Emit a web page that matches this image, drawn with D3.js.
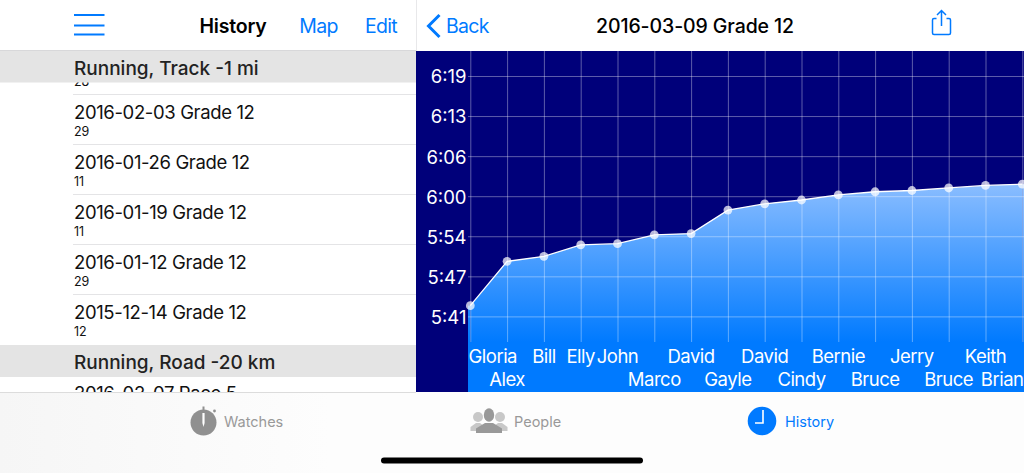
<!DOCTYPE html>
<html>
<head>
<meta charset="utf-8">
<script src="https://cdn.jsdelivr.net/npm/d3@7"></script>
<style>
html,body{margin:0;padding:0;background:#fff;overflow:hidden}
svg{display:block}
text{font-family:Inter,"Noto Sans",sans-serif}
</style>
</head>
<body>
<svg id="c" width="1024" height="473"></svg>
<script>
const runners = ["Gloria","Alex","Bill","Elly","John","Marco","David","Gayle","David","Cindy","Bernie","Bruce","Jerry","Bruce","Keith","Brian"];
const labelRows = [0,1,0,0,0,1,0,1,0,1,0,1,0,1,0,1];
const seconds = [342.7,349.7,350.5,352.3,352.5,353.9,354.1,357.8,358.8,359.4,360.2,360.7,360.9,361.3,361.7,361.9];
const yTicks = [341,347.33,353.67,360,366.33,372.67,379];
const yTickLabels = ["5:41","5:47","5:54","6:00","6:06","6:13","6:19"];
const chartTitle = "2016-03-09 Grade 12";
const listRows = [["2016-02-03 Grade 12","29"],["2016-01-26 Grade 12","11"],["2016-01-19 Grade 12","11"],["2016-01-12 Grade 12","29"],["2015-12-14 Grade 12","12"]];
const sectionTitles = ["Running, Track -1 mi","Running, Road -20 km"];
const tabs = ["Watches","People","History"];

const blue = "#007aff", navy = "#00007a";
const svg = d3.select("#c");
const defs = svg.append("defs");
const grad = defs.append("linearGradient").attr("id","g").attr("gradientUnits","userSpaceOnUse")
  .attr("x1",0).attr("x2",0).attr("y1",184).attr("y2",342);
grad.append("stop").attr("offset",0).attr("stop-color","#8abdff");
grad.append("stop").attr("offset",1).attr("stop-color",blue);
const tabGrad = defs.append("linearGradient").attr("id","tabFade").attr("x1",0).attr("x2",1).attr("y1",0).attr("y2",0);
tabGrad.append("stop").attr("offset",0).attr("stop-color","#f6f6f6");
tabGrad.append("stop").attr("offset",1).attr("stop-color","#fdfdfd");
defs.append("clipPath").attr("id","listClip").append("rect").attr("x",0).attr("y",51).attr("width",416).attr("height",341);
defs.append("clipPath").attr("id","chartClip").append("rect").attr("x",416).attr("y",51).attr("width",608).attr("height",341);
const blur = defs.append("filter").attr("id","soft").attr("x","-10%").attr("y","-10%").attr("width","120%").attr("height","120%");
blur.append("feGaussianBlur").attr("stdDeviation",0.6);

/* ---------- chart ---------- */
const x = d3.scalePoint().domain(d3.range(runners.length)).range([470.3,1022.3]);
const y = d3.scaleLinear().domain([341,379]).range([316.4,76]);
const bottom = 342;

const chart = svg.append("g").attr("clip-path","url(#chartClip)");
chart.append("rect").attr("x",416).attr("y",51).attr("width",608).attr("height",341).attr("fill",navy);

const area = d3.area().x((d,i)=>x(i)).y0(bottom).y1(d=>y(d));
chart.append("path").datum(seconds).attr("d",area).attr("fill","url(#g)");
chart.append("rect").attr("x",468).attr("y",bottom).attr("width",556).attr("height",50).attr("fill",blue);
chart.append("rect").attr("x",468).attr("y",y(seconds[0])).attr("width",2.3).attr("height",bottom-y(seconds[0])).attr("fill","url(#g)");
chart.append("rect").attr("x",1022.3).attr("y",y(seconds[15])).attr("width",1.7).attr("height",bottom-y(seconds[15])).attr("fill","url(#g)");

chart.append("g").attr("transform","translate(468,0)")
  .call(d3.axisLeft(y).tickValues(yTicks).tickSize(-556).tickFormat(""))
  .call(g=>g.select(".domain").remove())
  .selectAll("line").attr("stroke","#fff").attr("stroke-opacity",.36).attr("stroke-width",1);

chart.append("g").attr("transform",`translate(0,${bottom})`)
  .call(d3.axisBottom(x).tickSize(-291).tickFormat(""))
  .call(g=>g.select(".domain").remove())
  .selectAll("line").attr("stroke","#fff").attr("stroke-opacity",.36).attr("stroke-width",1);

chart.append("g").attr("transform","translate(466.5,0)")
  .call(d3.axisLeft(y).tickValues(yTicks).tickSize(0).tickPadding(0).tickFormat((d,i)=>yTickLabels[i]))
  .call(g=>g.select(".domain").remove())
  .selectAll("text").attr("fill","#fff").attr("dy",".37em").style("font-size","18.5px").style("font-family","Inter,sans-serif");

chart.append("path").datum(seconds).attr("d",d3.line().x((d,i)=>x(i)).y(d=>y(d)))
  .attr("fill","none").attr("stroke","#fff").attr("stroke-width",1.3);
chart.selectAll("circle.pt").data(seconds).join("circle").attr("class","pt")
  .attr("cx",(d,i)=>x(i)).attr("cy",d=>y(d)).attr("r",4.4).attr("fill","#fff").attr("fill-opacity",.72);

const names = chart.selectAll("text.name").data(runners).join("text").attr("class","name")
  .attr("x",(d,i)=>x(i)).attr("y",(d,i)=>labelRows[i]?385.5:362.5)
  .attr("text-anchor","middle").attr("fill","#fff").style("font-size","18.5px").style("letter-spacing","-0.5px")
  .text(d=>d);
// labels that would leave the plot band are pushed back inside it
names.each(function(){
  const b = this.getBBox(), el = d3.select(this);
  if (b.x < 468.5) el.attr("x", +el.attr("x") + 468.5 - b.x);
  if (b.x + b.width > 1023.5) el.attr("x", +el.attr("x") + 1023.5 - b.x - b.width);
});

/* ---------- list ---------- */
const list = svg.append("g").attr("clip-path","url(#listClip)");
list.append("rect").attr("x",0).attr("y",51).attr("width",416).attr("height",341).attr("fill","#fff");
list.append("text").attr("x",74).attr("y",85.5).attr("fill","#111").style("font-size","12.5px").text("28");
const rowY = d3.scaleLinear().domain([0,4]).range([94.5,294.5]);
const rows = list.selectAll("g.row").data(listRows).join("g").attr("class","row").attr("transform",(d,i)=>`translate(0,${rowY(i)})`);
rows.append("line").attr("x1",73).attr("x2",416).attr("y1",0).attr("y2",0).attr("stroke","#e4e4e6");
rows.append("text").attr("x",74).attr("y",24.3).attr("fill","#111").style("font-size","18.5px").style("letter-spacing","-0.37px").text(d=>d[0]);
rows.append("text").attr("x",74).attr("y",41).attr("fill","#111").style("font-size","12.5px").text(d=>d[1]);
list.append("text").attr("x",74).attr("y",400).attr("fill","#111").style("font-size","18.5px").style("letter-spacing","-0.37px").text("2016-02-07 Pace 5");
[[51,82.5],[345,377]].forEach((b,i)=>{
  list.append("rect").attr("x",0).attr("y",b[0]).attr("width",416).attr("height",b[1]-b[0]).attr("fill","#e4e4e4");
  list.append("text").attr("x",74).attr("y",b[0]+23.5).attr("fill","#222").style("font-size","19px").style("font-weight",500).text(sectionTitles[i]);
});

/* ---------- navigation bars ---------- */
const nav = svg.append("g");
nav.append("rect").attr("width",1024).attr("height",50.5).attr("fill","#fff");
nav.append("line").attr("x1",0).attr("x2",416).attr("y1",50.5).attr("y2",50.5).attr("stroke","#d8d8da");
nav.append("line").attr("x1",416.5).attr("x2",416.5).attr("y1",0).attr("y2",51).attr("stroke","#e8e8ea");
[14,24.5,33.5].forEach(v=>nav.append("rect").attr("x",74).attr("y",v).attr("width",30.5).attr("height",2).attr("fill",blue));
nav.append("text").attr("x",233).attr("y",32.5).attr("text-anchor","middle").attr("fill","#000").style("font-size","19.5px").style("font-weight",600).style("letter-spacing","-0.2px").text("History");
nav.append("text").attr("x",318.5).attr("y",32.5).attr("text-anchor","middle").attr("fill",blue).style("font-size","19.5px").style("letter-spacing","-0.7px").text("Map");
nav.append("text").attr("x",381).attr("y",32.5).attr("text-anchor","middle").attr("fill",blue).style("font-size","19.5px").style("letter-spacing","-0.7px").text("Edit");
nav.append("path").attr("d","M439.5,15 L428.5,26 L439.5,37").attr("fill","none").attr("stroke",blue).attr("stroke-width",3);
nav.append("text").attr("x",446).attr("y",32.5).attr("fill",blue).style("font-size","19.5px").style("letter-spacing","-0.7px").text("Back");
nav.append("text").attr("x",695).attr("y",32.5).attr("text-anchor","middle").attr("fill","#000").style("font-size","19.5px").style("font-weight",500).style("letter-spacing","-0.1px").text(chartTitle);
nav.append("path").attr("d","M936.5,18.5 H934 Q932.5,18.5 932.5,20 V33 Q932.5,34.5 934,34.5 H949 Q950.5,34.5 950.5,33 V20 Q950.5,18.5 949,18.5 H946.5 M941.5,26 V10.5 M937,15 L941.5,10.5 L946,15")
  .attr("fill","none").attr("stroke",blue).attr("stroke-width",1.5);

/* ---------- tab bar ---------- */
const tab = svg.append("g");
tab.append("rect").attr("y",392).attr("width",1024).attr("height",81).attr("fill","#fdfdfd");
tab.append("rect").attr("y",392).attr("width",330).attr("height",81).attr("fill","url(#tabFade)");
tab.append("line").attr("x1",0).attr("x2",416).attr("y1",392.5).attr("y2",392.5).attr("stroke","#dcdcdc");
tab.append("circle").attr("cx",203.5).attr("cy",422.5).attr("r",13).attr("fill","#909090");
tab.append("rect").attr("x",202.5).attr("y",406.5).attr("width",2).attr("height",4).attr("fill","#909090");
tab.append("circle").attr("cx",214.5).attr("cy",411).attr("r",1.4).attr("fill","#909090");
tab.append("path").attr("d","M202.4,413 H204.6 V423 L203.5,427 L202.4,423 Z").attr("fill","#fff");
tab.append("text").attr("x",224).attr("y",426.5).attr("fill","#999").style("font-size","14.5px").text(tabs[0]);
const people = tab.append("g").attr("filter","url(#soft)");
[478,500].forEach(p=>{
  people.append("circle").attr("cx",p).attr("cy",417).attr("r",5).attr("fill","#c8c8c8");
  people.append("path").attr("d",`M${p-7.5},431 V427 L${p-2},423 H${p+2} L${p+7.5},427 V431 Z`).attr("fill","#c8c8c8");
});
people.append("ellipse").attr("cx",489).attr("cy",415).attr("rx",5.2).attr("ry",6.8).attr("fill","#999");
people.append("path").attr("d","M476,433 V428.5 L485,423 H493 L502,428.5 V433 Z").attr("fill","#999");
tab.append("text").attr("x",514).attr("y",426.5).attr("fill","#999").style("font-size","14.5px").text(tabs[1]);
tab.append("circle").attr("cx",762).attr("cy",421).attr("r",14.3).attr("fill",blue);
tab.append("path").attr("d","M763,410 V423 H755").attr("fill","none").attr("stroke","#fff").attr("stroke-width",1.6);
tab.append("text").attr("x",785).attr("y",426.5).attr("fill",blue).style("font-size","14.5px").text(tabs[2]);
tab.append("rect").attr("x",381).attr("y",457.5).attr("width",262).attr("height",6).attr("rx",3).attr("fill","#000");
</script>
</body>
</html>
